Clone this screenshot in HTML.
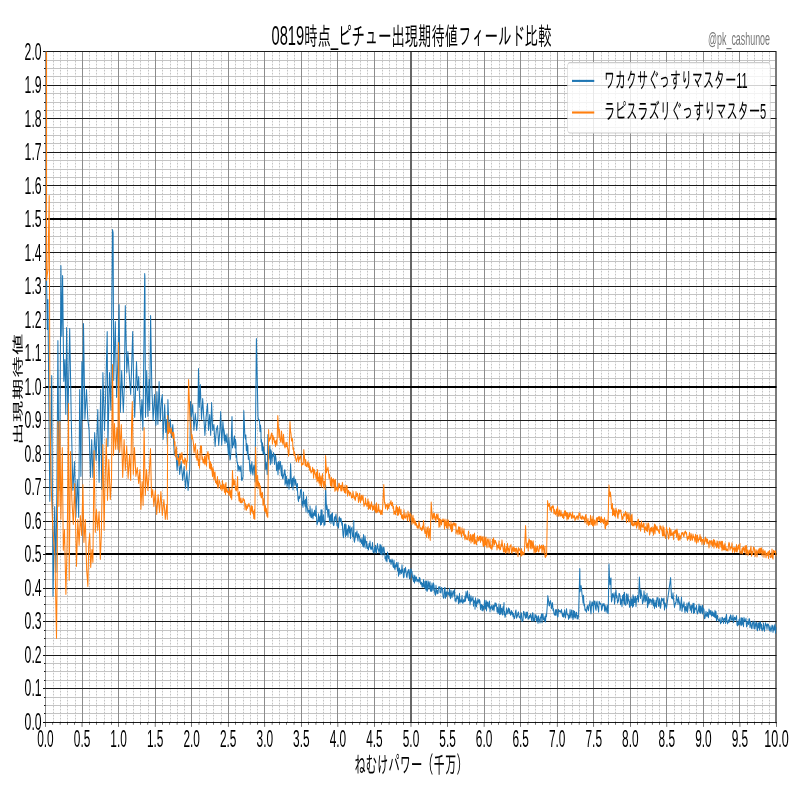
<!DOCTYPE html>
<html><head><meta charset="utf-8"><style>
html,body{margin:0;padding:0;background:#fff;width:800px;height:800px;overflow:hidden}
svg{display:block}
text{font-family:"Liberation Sans","IPAGothic","Noto Sans CJK JP",sans-serif;fill:#000}
.mnv{stroke:#c4c4c4;stroke-width:2;stroke-dasharray:1.6 1.4}
.mnh{stroke:#c8c8c8;stroke-width:1;shape-rendering:crispEdges}
.mjv{stroke:#8c8c8c;stroke-width:2}
.mjv5{stroke:#666;stroke-width:4}
.mjh{stroke:#111;stroke-width:1;shape-rendering:crispEdges}
.mjh5{stroke:#000;stroke-width:2;shape-rendering:crispEdges}
.tk{stroke:#000;stroke-width:1.1}
.tl{font-size:24.5px}
</style></head><body>
<svg width="800" height="800" viewBox="0 0 1600 800" preserveAspectRatio="none">
<rect x="0" y="0" width="1600" height="800" fill="#fff"/>
<g>
<line x1="107.00" y1="51.81" x2="107.00" y2="722.25" class="mnv"/>
<line x1="121.00" y1="51.81" x2="121.00" y2="722.25" class="mnv"/>
<line x1="135.00" y1="51.81" x2="135.00" y2="722.25" class="mnv"/>
<line x1="151.00" y1="51.81" x2="151.00" y2="722.25" class="mnv"/>
<line x1="179.00" y1="51.81" x2="179.00" y2="722.25" class="mnv"/>
<line x1="193.00" y1="51.81" x2="193.00" y2="722.25" class="mnv"/>
<line x1="209.00" y1="51.81" x2="209.00" y2="722.25" class="mnv"/>
<line x1="223.00" y1="51.81" x2="223.00" y2="722.25" class="mnv"/>
<line x1="253.00" y1="51.81" x2="253.00" y2="722.25" class="mnv"/>
<line x1="267.00" y1="51.81" x2="267.00" y2="722.25" class="mnv"/>
<line x1="281.00" y1="51.81" x2="281.00" y2="722.25" class="mnv"/>
<line x1="297.00" y1="51.81" x2="297.00" y2="722.25" class="mnv"/>
<line x1="325.00" y1="51.81" x2="325.00" y2="722.25" class="mnv"/>
<line x1="341.00" y1="51.81" x2="341.00" y2="722.25" class="mnv"/>
<line x1="355.00" y1="51.81" x2="355.00" y2="722.25" class="mnv"/>
<line x1="369.00" y1="51.81" x2="369.00" y2="722.25" class="mnv"/>
<line x1="399.00" y1="51.81" x2="399.00" y2="722.25" class="mnv"/>
<line x1="413.00" y1="51.81" x2="413.00" y2="722.25" class="mnv"/>
<line x1="427.00" y1="51.81" x2="427.00" y2="722.25" class="mnv"/>
<line x1="443.00" y1="51.81" x2="443.00" y2="722.25" class="mnv"/>
<line x1="471.00" y1="51.81" x2="471.00" y2="722.25" class="mnv"/>
<line x1="487.00" y1="51.81" x2="487.00" y2="722.25" class="mnv"/>
<line x1="501.00" y1="51.81" x2="501.00" y2="722.25" class="mnv"/>
<line x1="515.00" y1="51.81" x2="515.00" y2="722.25" class="mnv"/>
<line x1="545.00" y1="51.81" x2="545.00" y2="722.25" class="mnv"/>
<line x1="559.00" y1="51.81" x2="559.00" y2="722.25" class="mnv"/>
<line x1="575.00" y1="51.81" x2="575.00" y2="722.25" class="mnv"/>
<line x1="589.00" y1="51.81" x2="589.00" y2="722.25" class="mnv"/>
<line x1="617.00" y1="51.81" x2="617.00" y2="722.25" class="mnv"/>
<line x1="633.00" y1="51.81" x2="633.00" y2="722.25" class="mnv"/>
<line x1="647.00" y1="51.81" x2="647.00" y2="722.25" class="mnv"/>
<line x1="661.00" y1="51.81" x2="661.00" y2="722.25" class="mnv"/>
<line x1="691.00" y1="51.81" x2="691.00" y2="722.25" class="mnv"/>
<line x1="705.00" y1="51.81" x2="705.00" y2="722.25" class="mnv"/>
<line x1="721.00" y1="51.81" x2="721.00" y2="722.25" class="mnv"/>
<line x1="735.00" y1="51.81" x2="735.00" y2="722.25" class="mnv"/>
<line x1="765.00" y1="51.81" x2="765.00" y2="722.25" class="mnv"/>
<line x1="779.00" y1="51.81" x2="779.00" y2="722.25" class="mnv"/>
<line x1="793.00" y1="51.81" x2="793.00" y2="722.25" class="mnv"/>
<line x1="807.00" y1="51.81" x2="807.00" y2="722.25" class="mnv"/>
<line x1="837.00" y1="51.81" x2="837.00" y2="722.25" class="mnv"/>
<line x1="851.00" y1="51.81" x2="851.00" y2="722.25" class="mnv"/>
<line x1="867.00" y1="51.81" x2="867.00" y2="722.25" class="mnv"/>
<line x1="881.00" y1="51.81" x2="881.00" y2="722.25" class="mnv"/>
<line x1="911.00" y1="51.81" x2="911.00" y2="722.25" class="mnv"/>
<line x1="925.00" y1="51.81" x2="925.00" y2="722.25" class="mnv"/>
<line x1="939.00" y1="51.81" x2="939.00" y2="722.25" class="mnv"/>
<line x1="955.00" y1="51.81" x2="955.00" y2="722.25" class="mnv"/>
<line x1="983.00" y1="51.81" x2="983.00" y2="722.25" class="mnv"/>
<line x1="999.00" y1="51.81" x2="999.00" y2="722.25" class="mnv"/>
<line x1="1013.00" y1="51.81" x2="1013.00" y2="722.25" class="mnv"/>
<line x1="1027.00" y1="51.81" x2="1027.00" y2="722.25" class="mnv"/>
<line x1="1057.00" y1="51.81" x2="1057.00" y2="722.25" class="mnv"/>
<line x1="1071.00" y1="51.81" x2="1071.00" y2="722.25" class="mnv"/>
<line x1="1085.00" y1="51.81" x2="1085.00" y2="722.25" class="mnv"/>
<line x1="1101.00" y1="51.81" x2="1101.00" y2="722.25" class="mnv"/>
<line x1="1129.00" y1="51.81" x2="1129.00" y2="722.25" class="mnv"/>
<line x1="1145.00" y1="51.81" x2="1145.00" y2="722.25" class="mnv"/>
<line x1="1159.00" y1="51.81" x2="1159.00" y2="722.25" class="mnv"/>
<line x1="1173.00" y1="51.81" x2="1173.00" y2="722.25" class="mnv"/>
<line x1="1203.00" y1="51.81" x2="1203.00" y2="722.25" class="mnv"/>
<line x1="1217.00" y1="51.81" x2="1217.00" y2="722.25" class="mnv"/>
<line x1="1231.00" y1="51.81" x2="1231.00" y2="722.25" class="mnv"/>
<line x1="1247.00" y1="51.81" x2="1247.00" y2="722.25" class="mnv"/>
<line x1="1275.00" y1="51.81" x2="1275.00" y2="722.25" class="mnv"/>
<line x1="1291.00" y1="51.81" x2="1291.00" y2="722.25" class="mnv"/>
<line x1="1305.00" y1="51.81" x2="1305.00" y2="722.25" class="mnv"/>
<line x1="1319.00" y1="51.81" x2="1319.00" y2="722.25" class="mnv"/>
<line x1="1349.00" y1="51.81" x2="1349.00" y2="722.25" class="mnv"/>
<line x1="1363.00" y1="51.81" x2="1363.00" y2="722.25" class="mnv"/>
<line x1="1379.00" y1="51.81" x2="1379.00" y2="722.25" class="mnv"/>
<line x1="1393.00" y1="51.81" x2="1393.00" y2="722.25" class="mnv"/>
<line x1="1423.00" y1="51.81" x2="1423.00" y2="722.25" class="mnv"/>
<line x1="1437.00" y1="51.81" x2="1437.00" y2="722.25" class="mnv"/>
<line x1="1451.00" y1="51.81" x2="1451.00" y2="722.25" class="mnv"/>
<line x1="1465.00" y1="51.81" x2="1465.00" y2="722.25" class="mnv"/>
<line x1="1495.00" y1="51.81" x2="1495.00" y2="722.25" class="mnv"/>
<line x1="1509.00" y1="51.81" x2="1509.00" y2="722.25" class="mnv"/>
<line x1="1525.00" y1="51.81" x2="1525.00" y2="722.25" class="mnv"/>
<line x1="1539.00" y1="51.81" x2="1539.00" y2="722.25" class="mnv"/>
<rect x="90.96" y="713" width="1462.04" height="1" fill="#c4c4c4"/>
<rect x="90.96" y="705" width="1462.04" height="1" fill="#c4c4c4"/>
<rect x="90.96" y="697" width="1462.04" height="1" fill="#c4c4c4"/>
<rect x="90.96" y="680" width="1462.04" height="1" fill="#c4c4c4"/>
<rect x="90.96" y="671" width="1462.04" height="1" fill="#c4c4c4"/>
<rect x="90.96" y="663" width="1462.04" height="1" fill="#c4c4c4"/>
<rect x="90.96" y="646" width="1462.04" height="1" fill="#c4c4c4"/>
<rect x="90.96" y="638" width="1462.04" height="1" fill="#c4c4c4"/>
<rect x="90.96" y="630" width="1462.04" height="1" fill="#c4c4c4"/>
<rect x="90.96" y="613" width="1462.04" height="1" fill="#c4c4c4"/>
<rect x="90.96" y="604" width="1462.04" height="1" fill="#c4c4c4"/>
<rect x="90.96" y="596" width="1462.04" height="1" fill="#c4c4c4"/>
<rect x="90.96" y="579" width="1462.04" height="1" fill="#c4c4c4"/>
<rect x="90.96" y="571" width="1462.04" height="1" fill="#c4c4c4"/>
<rect x="90.96" y="563" width="1462.04" height="1" fill="#c4c4c4"/>
<rect x="90.96" y="546" width="1462.04" height="1" fill="#c4c4c4"/>
<rect x="90.96" y="537" width="1462.04" height="1" fill="#c4c4c4"/>
<rect x="90.96" y="529" width="1462.04" height="1" fill="#c4c4c4"/>
<rect x="90.96" y="512" width="1462.04" height="1" fill="#c4c4c4"/>
<rect x="90.96" y="504" width="1462.04" height="1" fill="#c4c4c4"/>
<rect x="90.96" y="495" width="1462.04" height="1" fill="#c4c4c4"/>
<rect x="90.96" y="479" width="1462.04" height="1" fill="#c4c4c4"/>
<rect x="90.96" y="470" width="1462.04" height="1" fill="#c4c4c4"/>
<rect x="90.96" y="462" width="1462.04" height="1" fill="#c4c4c4"/>
<rect x="90.96" y="445" width="1462.04" height="1" fill="#c4c4c4"/>
<rect x="90.96" y="437" width="1462.04" height="1" fill="#c4c4c4"/>
<rect x="90.96" y="428" width="1462.04" height="1" fill="#c4c4c4"/>
<rect x="90.96" y="412" width="1462.04" height="1" fill="#c4c4c4"/>
<rect x="90.96" y="403" width="1462.04" height="1" fill="#c4c4c4"/>
<rect x="90.96" y="395" width="1462.04" height="1" fill="#c4c4c4"/>
<rect x="90.96" y="378" width="1462.04" height="1" fill="#c4c4c4"/>
<rect x="90.96" y="370" width="1462.04" height="1" fill="#c4c4c4"/>
<rect x="90.96" y="361" width="1462.04" height="1" fill="#c4c4c4"/>
<rect x="90.96" y="345" width="1462.04" height="1" fill="#c4c4c4"/>
<rect x="90.96" y="336" width="1462.04" height="1" fill="#c4c4c4"/>
<rect x="90.96" y="328" width="1462.04" height="1" fill="#c4c4c4"/>
<rect x="90.96" y="311" width="1462.04" height="1" fill="#c4c4c4"/>
<rect x="90.96" y="303" width="1462.04" height="1" fill="#c4c4c4"/>
<rect x="90.96" y="294" width="1462.04" height="1" fill="#c4c4c4"/>
<rect x="90.96" y="278" width="1462.04" height="1" fill="#c4c4c4"/>
<rect x="90.96" y="269" width="1462.04" height="1" fill="#c4c4c4"/>
<rect x="90.96" y="261" width="1462.04" height="1" fill="#c4c4c4"/>
<rect x="90.96" y="244" width="1462.04" height="1" fill="#c4c4c4"/>
<rect x="90.96" y="236" width="1462.04" height="1" fill="#c4c4c4"/>
<rect x="90.96" y="227" width="1462.04" height="1" fill="#c4c4c4"/>
<rect x="90.96" y="211" width="1462.04" height="1" fill="#c4c4c4"/>
<rect x="90.96" y="202" width="1462.04" height="1" fill="#c4c4c4"/>
<rect x="90.96" y="194" width="1462.04" height="1" fill="#c4c4c4"/>
<rect x="90.96" y="177" width="1462.04" height="1" fill="#c4c4c4"/>
<rect x="90.96" y="169" width="1462.04" height="1" fill="#c4c4c4"/>
<rect x="90.96" y="160" width="1462.04" height="1" fill="#c4c4c4"/>
<rect x="90.96" y="143" width="1462.04" height="1" fill="#c4c4c4"/>
<rect x="90.96" y="135" width="1462.04" height="1" fill="#c4c4c4"/>
<rect x="90.96" y="127" width="1462.04" height="1" fill="#c4c4c4"/>
<rect x="90.96" y="110" width="1462.04" height="1" fill="#c4c4c4"/>
<rect x="90.96" y="102" width="1462.04" height="1" fill="#c4c4c4"/>
<rect x="90.96" y="93" width="1462.04" height="1" fill="#c4c4c4"/>
<rect x="90.96" y="76" width="1462.04" height="1" fill="#c4c4c4"/>
<rect x="90.96" y="68" width="1462.04" height="1" fill="#c4c4c4"/>
<rect x="90.96" y="60" width="1462.04" height="1" fill="#c4c4c4"/>
<rect x="90" y="51.81" width="2" height="670.44" fill="#8c8c8c"/>
<rect x="164" y="51.81" width="2" height="670.44" fill="#8c8c8c"/>
<rect x="236" y="51.81" width="2" height="670.44" fill="#8c8c8c"/>
<rect x="310" y="51.81" width="2" height="670.44" fill="#8c8c8c"/>
<rect x="382" y="51.81" width="2" height="670.44" fill="#8c8c8c"/>
<rect x="456" y="51.81" width="2" height="670.44" fill="#8c8c8c"/>
<rect x="528" y="51.81" width="2" height="670.44" fill="#8c8c8c"/>
<rect x="602" y="51.81" width="2" height="670.44" fill="#8c8c8c"/>
<rect x="674" y="51.81" width="2" height="670.44" fill="#8c8c8c"/>
<rect x="748" y="51.81" width="2" height="670.44" fill="#8c8c8c"/>
<rect x="820" y="51.81" width="4" height="670.44" fill="#666"/>
<rect x="894" y="51.81" width="2" height="670.44" fill="#8c8c8c"/>
<rect x="968" y="51.81" width="2" height="670.44" fill="#8c8c8c"/>
<rect x="1040" y="51.81" width="2" height="670.44" fill="#8c8c8c"/>
<rect x="1114" y="51.81" width="2" height="670.44" fill="#8c8c8c"/>
<rect x="1186" y="51.81" width="2" height="670.44" fill="#8c8c8c"/>
<rect x="1260" y="51.81" width="2" height="670.44" fill="#8c8c8c"/>
<rect x="1332" y="51.81" width="2" height="670.44" fill="#8c8c8c"/>
<rect x="1406" y="51.81" width="2" height="670.44" fill="#8c8c8c"/>
<rect x="1478" y="51.81" width="2" height="670.44" fill="#8c8c8c"/>
<rect x="1550" y="51.81" width="4" height="671.44" fill="#7a7a7a"/>
<rect x="90.96" y="722" width="1462.04" height="1" fill="#1a1a1a"/>
<rect x="90.96" y="688" width="1462.04" height="1" fill="#1a1a1a"/>
<rect x="90.96" y="655" width="1462.04" height="1" fill="#1a1a1a"/>
<rect x="90.96" y="621" width="1462.04" height="1" fill="#1a1a1a"/>
<rect x="90.96" y="588" width="1462.04" height="1" fill="#1a1a1a"/>
<rect x="90.96" y="553" width="1462.04" height="2" fill="#000"/>
<rect x="90.96" y="521" width="1462.04" height="1" fill="#1a1a1a"/>
<rect x="90.96" y="487" width="1462.04" height="1" fill="#1a1a1a"/>
<rect x="90.96" y="454" width="1462.04" height="1" fill="#1a1a1a"/>
<rect x="90.96" y="420" width="1462.04" height="1" fill="#1a1a1a"/>
<rect x="90.96" y="386" width="1462.04" height="2" fill="#000"/>
<rect x="90.96" y="353" width="1462.04" height="1" fill="#1a1a1a"/>
<rect x="90.96" y="319" width="1462.04" height="1" fill="#1a1a1a"/>
<rect x="90.96" y="286" width="1462.04" height="1" fill="#1a1a1a"/>
<rect x="90.96" y="252" width="1462.04" height="1" fill="#1a1a1a"/>
<rect x="90.96" y="218" width="1462.04" height="2" fill="#000"/>
<rect x="90.96" y="185" width="1462.04" height="1" fill="#1a1a1a"/>
<rect x="90.96" y="152" width="1462.04" height="1" fill="#1a1a1a"/>
<rect x="90.96" y="118" width="1462.04" height="1" fill="#1a1a1a"/>
<rect x="90.96" y="85" width="1462.04" height="1" fill="#1a1a1a"/>
<rect x="90.96" y="51" width="1462.04" height="1" fill="#1a1a1a"/>
</g>
<defs><clipPath id="ax"><rect x="91" y="51.8" width="1462" height="671"/></clipPath></defs>
<g clip-path="url(#ax)" fill="none" stroke-linejoin="round" stroke-linecap="square">
<path d="M93.0,20.0 L93.0,275.0 L94.6,329.0 L95.8,300.0 L99.6,501.0 L103.4,376.0 L106.0,596.0 L109.4,507.0 L111.8,572.0 L113.8,490.0 L115.8,341.0 L118.0,490.0 L119.8,437.0 L121.8,266.0 L123.6,336.0 L125.2,276.0 L127.6,381.0 L129.8,360.0 L131.6,414.0 L133.2,328.0 L135.8,420.0 L139.4,329.0 L142.6,421.0 L145.8,490.0 L149.0,462.0 L151.8,517.0 L154.6,480.0 L157.4,517.0 L159.4,390.0 L161.8,476.0 L163.8,362.0 L165.4,419.0 L167.0,324.0 L169.8,419.0 L173.0,390.0 L175.6,419.0 L178.2,430.0 L181.0,477.0 L183.4,440.0 L185.8,477.0 L189.4,433.0 L192.2,460.0 L195.6,410.0 L198.2,482.0 L201.4,390.0 L203.4,489.0 L205.8,373.0 L209.0,430.0 L211.0,400.0 L214.4,332.0 L215.8,446.0 L219.0,373.0 L221.8,410.0 L225.0,230.0 L226.2,233.0 L227.4,380.0 L230.6,322.0 L233.2,397.0 L235.8,360.0 L238.2,305.0 L240.6,412.0 L243.4,371.0 L246.6,412.0 L248.6,387.0 L250.6,306.0 L253.6,372.0 L255.8,352.0 L258.6,375.0 L261.4,394.0 L263.0,371.0 L265.4,332.0 L267.4,387.0 L269.4,417.0 L273.0,362.0 L275.0,390.0 L277.4,377.0 L279.4,400.0 L281.8,420.0 L283.8,400.0 L285.8,430.0 L288.2,330.0 L289.4,274.0 L289.8,277.0 L291.0,417.0 L293.4,371.0 L295.8,416.0 L298.2,380.0 L299.4,410.0 L301.2,316.0 L303.6,386.0 L306.2,420.0 L309.0,395.0 L311.8,425.0 L313.8,392.0 L315.8,424.0 L318.2,382.0 L320.6,421.0 L323.0,400.0 L324.6,395.0 L326.2,439.0 L329.4,405.0 L331.4,432.0 L333.0,420.0 L334.6,444.0 L335.8,400.0 L338.2,432.0 L340.6,420.0 L343.0,437.0 L345.6,425.0 L348.6,455.0 L351.6,450.0 L354.2,470.0 L356.6,455.0 L359.4,474.0 L362.2,462.0 L365.4,480.0 L368.2,467.0 L371.0,488.0 L373.8,472.0 L376.2,490.0 L379.4,470.0 L381.0,402.0 L383.0,416.0 L385.4,405.0 L387.8,430.0 L390.6,414.0 L393.4,430.0 L395.8,418.0 L397.0,369.0 L398.6,407.0 L400.6,385.0 L403.0,419.0 L405.4,399.0 L407.8,419.0 L409.8,435.0 L412.2,417.0 L415.0,404.0 L417.0,430.0 L419.4,415.0 L421.4,435.0 L423.2,403.0 L425.4,430.0 L427.8,425.0 L430.2,446.0 L432.6,430.0 L435.0,426.0 L437.4,445.0 L439.8,430.0 L441.4,412.0 L443.4,445.0 L445.8,422.0 L448.6,440.0 L448.0,430.1 L449.0,433.9 L450.0,442.9 L450.9,435.6 L451.9,438.3 L452.9,441.8 L453.9,434.4 L454.9,443.7 L455.9,448.4 L456.8,454.4 L457.8,438.1 L458.8,445.2 L458.8,451.1 L459.9,459.7 L460.9,458.3 L461.9,450.5 L464.0,417.0 L465.0,447.4 L466.0,443.7 L467.0,444.6 L468.0,437.7 L469.0,436.4 L470.0,447.5 L471.0,439.9 L472.0,443.8 L472.0,456.4 L473.0,453.5 L474.0,462.1 L475.0,462.6 L476.0,470.6 L477.0,465.8 L478.0,468.8 L479.0,467.2 L480.0,471.0 L481.0,468.3 L482.0,466.1 L483.0,479.4 L484.0,480.2 L485.0,478.4 L486.0,477.0 L487.6,411.0 L489.8,436.4 L490.8,438.6 L491.7,435.4 L492.7,450.2 L493.7,444.1 L494.7,454.2 L495.6,445.9 L496.6,458.9 L497.6,457.8 L497.6,456.0 L498.6,459.8 L499.7,470.7 L500.7,465.3 L501.7,473.7 L502.8,466.1 L503.8,462.1 L504.8,471.4 L505.9,474.6 L506.9,467.7 L507.9,465.7 L509.0,470.4 L510.0,481.4 L512.8,339.0 L516.0,416.9 L517.0,419.9 L518.0,419.9 L519.0,421.0 L520.0,431.2 L521.0,425.5 L522.0,431.7 L522.0,441.7 L523.0,440.0 L524.1,450.3 L525.1,443.2 L526.1,453.2 L527.2,447.2 L528.2,454.0 L529.2,452.9 L530.3,455.9 L531.3,469.0 L532.3,468.6 L533.4,462.8 L534.4,474.2 L535.8,435.0 L536.6,448.9 L537.7,458.9 L538.7,455.6 L539.7,446.2 L540.7,464.1 L541.8,450.4 L542.8,452.3 L543.8,462.7 L544.9,455.6 L545.9,456.0 L546.9,453.1 L547.9,454.4 L549.0,464.0 L550.0,459.1 L550.0,457.8 L551.0,455.5 L552.0,458.7 L553.0,470.2 L554.0,462.9 L555.0,466.5 L556.0,474.3 L557.0,462.1 L558.0,463.2 L558.0,468.7 L559.0,468.7 L560.0,461.9 L561.0,462.2 L562.0,471.3 L563.0,475.4 L564.0,465.9 L565.0,478.0 L566.0,478.3 L567.0,475.4 L568.0,473.9 L569.0,470.4 L570.0,470.6 L570.0,484.4 L571.0,474.6 L572.0,482.6 L573.0,476.9 L574.0,486.4 L575.0,483.9 L576.0,480.4 L577.0,479.6 L578.0,488.8 L579.0,480.0 L580.0,483.4 L581.2,464.0 L583.0,486.3 L584.0,483.3 L585.0,478.7 L586.0,489.5 L587.0,479.0 L588.0,476.9 L589.0,481.5 L590.0,485.0 L591.0,479.8 L592.0,482.4 L593.0,486.1 L594.0,489.9 L595.0,484.0 L595.0,490.4 L596.0,499.0 L597.0,501.1 L598.0,496.8 L599.0,498.0 L600.0,497.0 L601.0,490.8 L602.0,489.7 L603.0,490.1 L604.0,504.7 L605.0,502.1 L606.0,506.9 L607.0,492.5 L608.0,503.0 L609.0,501.2 L610.0,505.8 L611.0,499.8 L612.0,511.5 L613.0,497.0 L614.0,505.4 L615.0,509.2 L616.0,512.6 L617.0,510.6 L618.0,510.7 L619.0,512.8 L620.0,515.6 L620.0,506.3 L621.0,512.8 L622.0,517.1 L623.0,517.1 L624.0,509.2 L625.0,516.5 L626.0,518.3 L627.0,513.4 L628.0,514.8 L629.0,510.7 L630.0,514.9 L631.0,515.8 L632.0,506.3 L633.0,517.3 L634.0,524.4 L635.0,522.7 L636.0,520.3 L637.0,514.2 L638.0,521.3 L639.0,518.8 L640.0,516.5 L641.0,524.7 L642.0,510.4 L643.0,523.9 L644.0,510.2 L645.0,521.8 L646.0,519.9 L647.0,515.4 L648.0,525.1 L649.0,521.5 L650.0,524.3 L651.2,485.0 L653.0,509.2 L654.0,505.9 L655.0,510.7 L656.0,516.9 L657.0,510.0 L658.0,509.9 L659.0,521.8 L660.0,518.4 L661.0,515.4 L662.0,522.9 L663.0,514.4 L664.0,520.2 L665.0,513.2 L665.0,516.9 L666.0,523.1 L667.0,525.1 L668.0,524.7 L669.0,517.3 L670.0,520.6 L671.0,516.9 L672.0,514.5 L673.0,520.1 L674.0,525.4 L675.0,525.8 L676.0,524.1 L677.0,527.7 L678.0,518.4 L679.0,517.3 L680.0,521.4 L681.0,519.3 L682.0,518.8 L683.0,521.8 L684.0,524.9 L685.0,523.4 L685.0,527.4 L686.0,535.0 L687.0,537.2 L688.0,530.0 L689.0,524.9 L690.0,524.5 L691.0,536.5 L692.0,525.1 L693.0,534.7 L694.0,532.9 L695.0,529.5 L696.0,536.5 L697.0,525.9 L698.0,527.7 L699.0,532.4 L700.0,526.6 L701.0,538.1 L702.0,530.0 L703.0,528.9 L704.0,527.8 L705.0,536.2 L706.0,533.8 L707.0,536.6 L707.6,521.0 L708.0,539.7 L709.0,541.8 L710.0,538.7 L711.0,533.1 L712.0,536.7 L713.0,533.3 L714.0,531.4 L715.0,537.4 L716.0,540.7 L717.0,534.2 L718.0,535.6 L719.0,536.8 L720.0,541.6 L721.0,539.5 L722.0,541.0 L723.0,543.1 L724.0,538.6 L725.0,544.2 L726.0,546.0 L727.0,535.1 L728.0,546.9 L729.0,544.3 L730.0,536.4 L731.0,541.1 L732.0,543.8 L732.0,547.9 L733.0,541.8 L734.0,544.3 L735.0,548.3 L736.0,547.5 L737.0,549.5 L738.0,544.1 L739.0,546.5 L740.0,541.5 L741.0,547.9 L742.0,549.2 L743.0,547.4 L744.0,548.5 L745.0,542.9 L746.0,551.2 L747.0,552.3 L748.0,552.5 L749.0,547.7 L750.0,550.9 L751.0,545.7 L752.0,552.7 L753.0,552.3 L754.0,546.8 L755.0,544.0 L756.0,548.3 L757.0,549.8 L758.0,552.5 L759.0,549.6 L760.0,544.7 L761.0,553.7 L762.0,545.6 L763.0,554.1 L764.0,547.4 L765.0,549.4 L766.0,554.7 L767.0,547.8 L768.0,548.1 L769.0,552.4 L770.0,555.0 L770.0,558.2 L771.0,557.1 L772.0,560.4 L773.0,555.9 L774.0,561.4 L775.0,552.5 L776.0,554.5 L777.0,558.3 L778.0,556.3 L779.0,561.4 L780.0,561.0 L781.0,560.2 L782.0,564.1 L783.0,561.6 L784.0,559.5 L785.0,560.8 L786.0,566.1 L787.0,567.1 L788.0,560.5 L789.0,567.6 L790.0,569.3 L791.0,565.2 L792.0,566.2 L793.0,563.0 L794.0,566.9 L795.0,567.0 L795.0,570.5 L796.0,562.7 L797.0,575.8 L798.0,569.8 L799.0,568.5 L800.0,574.0 L801.0,571.0 L802.0,570.3 L803.0,573.1 L804.0,565.2 L805.0,571.5 L806.0,570.1 L807.0,577.1 L808.0,576.8 L809.0,569.0 L810.0,571.7 L811.0,567.8 L812.0,571.6 L813.0,576.3 L814.0,577.4 L815.0,572.7 L816.0,571.2 L817.0,570.0 L818.0,574.9 L819.0,578.4 L820.0,570.0 L821.0,577.1 L822.0,569.4 L823.0,571.5 L824.0,572.0 L825.0,576.9 L825.0,577.5 L826.0,578.1 L827.0,581.1 L828.0,575.6 L829.0,582.7 L830.0,576.2 L831.0,580.6 L832.0,577.9 L833.0,577.5 L834.0,581.3 L835.0,580.4 L836.0,579.9 L837.0,580.5 L838.0,581.9 L839.0,578.0 L840.0,578.6 L841.0,583.5 L842.0,583.7 L843.0,582.7 L844.0,586.4 L845.0,583.9 L846.0,586.8 L847.0,580.1 L848.0,585.8 L849.0,586.8 L850.0,587.9 L850.0,581.8 L851.0,582.1 L852.0,589.6 L853.0,581.5 L854.0,591.0 L855.0,589.9 L856.0,581.4 L857.0,582.9 L858.0,588.8 L859.0,583.7 L860.0,582.1 L861.0,590.8 L862.0,586.4 L863.0,590.9 L864.0,583.6 L865.0,587.0 L866.0,590.5 L867.0,583.3 L868.0,585.6 L869.0,591.2 L870.0,594.0 L871.0,594.9 L872.0,585.9 L873.0,590.4 L874.0,593.4 L875.0,590.9 L876.0,593.1 L877.0,588.1 L878.0,587.1 L879.0,587.8 L880.0,587.4 L880.0,592.1 L881.0,591.8 L882.0,592.5 L883.0,588.0 L884.0,588.6 L885.0,588.9 L886.0,596.0 L887.0,597.8 L888.0,597.3 L889.0,588.2 L890.0,588.0 L891.0,597.9 L892.0,592.7 L893.0,596.1 L894.0,591.5 L895.0,593.1 L896.0,593.8 L897.0,593.0 L898.0,595.0 L899.0,588.7 L900.0,596.4 L901.0,598.1 L902.0,590.9 L903.0,594.1 L904.0,597.3 L905.0,593.8 L906.0,591.6 L907.0,591.4 L908.0,595.4 L909.0,590.0 L910.0,599.8 L910.0,600.4 L911.0,599.2 L912.0,601.3 L913.0,598.4 L914.0,595.5 L915.0,598.1 L916.0,596.9 L917.0,603.3 L918.0,601.0 L919.0,593.9 L920.0,602.6 L921.0,600.4 L922.0,600.9 L923.0,601.5 L924.0,596.1 L925.0,602.7 L926.0,602.6 L927.0,600.2 L928.0,601.2 L929.0,601.3 L930.0,596.5 L931.0,600.8 L932.0,592.1 L933.0,595.8 L934.0,597.6 L935.0,591.4 L936.0,596.2 L937.0,600.1 L938.0,599.9 L939.0,594.6 L940.0,604.5 L941.0,600.7 L942.0,596.3 L943.0,600.8 L944.0,599.6 L945.0,599.1 L946.0,597.2 L947.0,605.8 L948.0,600.9 L949.0,601.7 L950.0,602.7 L950.0,608.8 L951.0,598.4 L952.0,605.0 L953.0,606.4 L954.0,601.2 L955.0,602.9 L956.0,599.2 L957.0,600.8 L958.0,602.9 L959.0,600.0 L960.0,601.8 L961.0,609.1 L962.0,605.3 L963.0,604.9 L964.0,610.0 L965.0,605.7 L966.0,610.5 L967.0,606.7 L968.0,608.7 L969.0,600.7 L970.0,606.6 L971.0,608.5 L972.0,600.7 L973.0,610.5 L974.0,602.2 L975.0,605.7 L976.0,602.5 L977.0,606.2 L978.0,607.5 L979.0,601.5 L980.0,611.4 L980.0,606.6 L981.0,607.9 L982.0,608.7 L983.0,606.3 L984.0,605.5 L985.0,609.6 L986.0,608.7 L987.0,605.8 L988.0,610.5 L989.0,606.1 L990.0,603.2 L991.0,605.8 L992.0,603.7 L993.0,605.0 L994.0,611.4 L995.0,607.7 L996.0,613.1 L997.0,611.6 L998.0,604.4 L999.0,614.2 L1000.0,613.9 L1001.0,605.0 L1002.0,613.6 L1003.0,608.8 L1004.0,609.4 L1005.0,614.5 L1006.0,607.2 L1007.0,610.1 L1008.0,603.0 L1008.0,614.2 L1009.0,611.8 L1010.0,616.9 L1011.0,615.4 L1012.0,613.4 L1013.0,608.6 L1014.0,613.7 L1015.0,612.2 L1016.0,609.8 L1017.0,608.4 L1018.0,613.1 L1019.0,609.3 L1020.0,612.5 L1021.0,614.7 L1022.0,612.7 L1023.0,611.0 L1024.0,614.1 L1025.0,612.7 L1026.0,616.1 L1027.0,613.9 L1028.0,618.3 L1029.0,618.0 L1030.0,616.0 L1031.0,611.5 L1032.0,610.4 L1033.0,617.7 L1034.0,616.8 L1035.0,615.4 L1036.0,613.1 L1037.0,612.4 L1038.0,616.2 L1038.0,616.6 L1039.0,617.0 L1040.0,617.4 L1041.0,618.7 L1042.0,613.1 L1043.0,613.8 L1044.0,621.1 L1045.0,620.5 L1046.0,620.2 L1047.0,611.9 L1048.0,612.2 L1049.0,614.3 L1050.0,615.9 L1051.0,617.9 L1052.0,612.8 L1053.0,617.2 L1054.0,612.6 L1055.0,612.8 L1056.0,618.7 L1057.0,617.5 L1058.0,618.4 L1059.0,615.9 L1060.0,617.0 L1061.0,614.4 L1062.0,615.7 L1063.0,619.8 L1064.0,620.8 L1065.0,613.2 L1066.0,613.7 L1067.0,620.7 L1068.0,618.9 L1069.0,620.4 L1070.0,614.9 L1071.0,617.0 L1072.0,615.4 L1073.0,621.0 L1074.0,616.7 L1075.0,619.6 L1076.0,623.0 L1077.0,616.4 L1078.0,618.7 L1079.0,620.7 L1080.0,622.5 L1081.0,617.6 L1082.0,617.1 L1083.0,614.4 L1084.0,622.3 L1085.0,614.3 L1086.0,614.4 L1087.0,619.3 L1088.0,618.6 L1089.0,620.6 L1090.0,616.8 L1091.0,621.6 L1092.0,614.7 L1093.0,616.1 L1095.0,602.6 L1095.6,596.0 L1097.0,600.3 L1098.0,605.1 L1099.0,605.5 L1100.0,601.9 L1101.0,601.0 L1102.0,603.8 L1103.0,608.3 L1104.0,605.2 L1105.0,603.1 L1106.0,610.0 L1107.0,609.2 L1108.0,613.5 L1109.0,614.4 L1110.0,614.8 L1111.0,610.2 L1112.0,614.8 L1112.0,610.0 L1113.0,610.3 L1114.0,611.2 L1115.0,616.6 L1116.0,616.3 L1117.0,609.9 L1118.0,611.2 L1119.0,611.3 L1120.0,611.3 L1121.0,611.8 L1122.0,611.8 L1123.0,609.9 L1124.1,613.7 L1125.1,616.1 L1126.1,613.7 L1127.1,616.7 L1128.1,614.1 L1129.1,610.3 L1130.1,616.2 L1131.1,617.5 L1132.1,611.6 L1133.1,609.1 L1134.1,614.1 L1135.1,614.5 L1136.1,614.8 L1137.1,618.9 L1138.1,615.8 L1139.1,617.4 L1140.1,610.1 L1141.1,615.0 L1142.1,617.5 L1143.1,610.6 L1144.1,610.7 L1145.1,617.3 L1146.2,619.0 L1147.2,611.0 L1148.2,616.5 L1149.2,611.7 L1150.2,617.8 L1151.2,617.0 L1152.2,613.0 L1153.2,612.8 L1154.2,618.4 L1155.2,616.0 L1156.2,618.6 L1157.2,614.9 L1159.6,569.0 L1160.2,591.3 L1161.2,587.4 L1162.1,586.1 L1163.1,589.1 L1164.1,594.8 L1165.1,596.7 L1166.1,602.5 L1167.1,595.8 L1168.0,605.1 L1169.0,604.5 L1170.0,609.7 L1170.0,609.3 L1171.0,609.8 L1172.0,610.7 L1173.0,611.8 L1174.0,607.5 L1175.0,606.0 L1176.0,608.7 L1177.0,610.2 L1178.0,605.0 L1179.0,605.1 L1180.0,601.4 L1181.0,609.8 L1182.0,613.5 L1183.0,605.0 L1184.0,602.2 L1185.0,602.9 L1185.0,605.1 L1186.0,603.6 L1187.0,611.8 L1188.0,601.0 L1189.1,604.0 L1190.1,601.8 L1191.1,608.2 L1192.1,609.8 L1193.1,602.9 L1194.1,601.6 L1195.1,606.3 L1196.1,607.9 L1197.2,611.7 L1198.2,601.7 L1199.2,602.6 L1200.2,603.6 L1201.2,604.0 L1202.2,604.3 L1203.2,609.9 L1204.2,608.6 L1205.3,604.5 L1206.3,604.1 L1207.3,605.3 L1208.3,604.2 L1209.3,610.8 L1210.3,605.9 L1211.3,608.6 L1212.3,611.7 L1213.4,608.0 L1214.4,605.7 L1215.4,612.7 L1216.4,613.1 L1218.0,564.5 L1218.8,575.4 L1219.9,584.3 L1221.0,579.6 L1222.0,578.3 L1222.0,588.7 L1223.0,601.5 L1224.0,599.8 L1225.0,594.1 L1226.0,596.4 L1227.0,596.5 L1228.0,593.3 L1229.0,603.8 L1230.0,599.3 L1231.0,593.4 L1232.0,590.4 L1233.0,597.4 L1234.0,596.1 L1235.0,602.6 L1236.0,601.7 L1237.0,600.3 L1238.0,593.9 L1239.0,594.1 L1240.0,596.8 L1240.0,595.6 L1241.0,604.2 L1242.0,599.4 L1243.0,601.2 L1244.0,606.2 L1245.0,596.1 L1246.0,600.0 L1247.0,594.7 L1248.0,603.4 L1249.0,592.7 L1250.0,604.3 L1251.0,604.7 L1252.0,604.5 L1253.0,594.2 L1254.0,596.9 L1255.0,603.2 L1256.0,594.6 L1257.0,600.1 L1258.0,600.0 L1259.0,606.9 L1260.0,601.8 L1261.0,605.7 L1262.0,598.0 L1263.0,604.9 L1264.0,599.7 L1265.0,606.8 L1266.0,595.3 L1267.0,605.7 L1268.0,597.1 L1269.0,601.9 L1270.0,601.7 L1271.0,596.7 L1272.0,606.2 L1273.0,599.0 L1274.0,599.0 L1275.0,595.8 L1276.0,599.1 L1277.0,601.5 L1278.8,577.5 L1280.0,593.0 L1281.0,598.0 L1282.0,590.3 L1283.0,594.7 L1284.0,596.0 L1285.0,603.3 L1286.0,601.8 L1287.0,599.7 L1288.0,591.4 L1289.0,596.7 L1290.0,601.6 L1291.0,595.6 L1292.0,600.4 L1293.0,599.3 L1294.0,593.7 L1295.0,607.1 L1296.0,605.0 L1297.0,597.5 L1298.0,603.3 L1299.0,599.4 L1300.0,600.9 L1300.0,602.5 L1301.0,599.6 L1302.0,600.2 L1303.0,600.9 L1304.0,604.3 L1305.0,599.4 L1306.0,598.8 L1307.0,605.4 L1308.0,600.5 L1309.0,608.1 L1310.0,603.5 L1311.0,605.6 L1312.0,600.8 L1313.0,607.0 L1314.0,598.0 L1315.0,598.7 L1316.0,598.1 L1317.0,605.5 L1318.0,606.0 L1319.0,599.4 L1320.0,602.3 L1321.0,607.8 L1322.0,604.8 L1323.0,598.5 L1324.0,600.3 L1325.0,599.5 L1326.0,599.2 L1327.0,602.9 L1328.0,598.6 L1329.0,609.6 L1330.0,603.3 L1331.0,604.5 L1332.0,606.3 L1333.0,608.0 L1341.2,578.0 L1343.0,597.6 L1344.0,597.1 L1345.0,598.5 L1346.0,593.3 L1347.0,598.8 L1348.0,603.0 L1349.0,606.9 L1350.0,604.6 L1351.0,603.1 L1352.0,602.6 L1353.0,595.3 L1354.0,599.5 L1355.0,599.9 L1356.0,604.0 L1357.0,597.5 L1358.0,601.1 L1359.0,602.9 L1360.0,606.5 L1360.0,609.9 L1361.0,607.4 L1362.0,602.1 L1363.0,597.5 L1364.0,611.0 L1365.0,606.9 L1366.0,604.7 L1367.0,606.5 L1368.0,602.4 L1369.0,609.1 L1370.0,612.3 L1371.0,606.9 L1372.0,609.3 L1373.0,610.7 L1374.0,603.5 L1375.0,612.0 L1376.0,608.5 L1377.0,603.7 L1378.0,602.5 L1379.0,604.4 L1380.0,608.2 L1381.0,609.6 L1382.0,605.6 L1383.0,612.2 L1384.0,606.1 L1385.0,607.3 L1386.0,603.7 L1387.0,612.9 L1388.0,603.9 L1389.0,612.3 L1390.0,608.5 L1391.0,608.7 L1392.0,608.8 L1393.0,605.7 L1394.0,612.6 L1395.0,613.5 L1396.0,611.7 L1397.0,609.5 L1398.0,604.6 L1399.0,611.9 L1400.0,606.5 L1401.0,612.8 L1402.0,606.2 L1403.0,609.6 L1404.0,612.3 L1405.0,605.9 L1405.0,613.5 L1406.0,608.9 L1407.0,608.5 L1408.0,610.1 L1409.0,618.3 L1410.0,617.9 L1411.0,615.2 L1412.0,611.8 L1413.0,615.5 L1414.0,616.3 L1415.0,612.8 L1416.0,615.0 L1417.0,617.2 L1418.0,609.5 L1419.0,611.4 L1420.0,614.2 L1421.0,611.0 L1422.0,613.6 L1423.0,615.5 L1424.0,611.6 L1425.0,615.2 L1426.0,612.7 L1427.0,615.9 L1428.0,613.6 L1429.0,616.8 L1430.0,610.9 L1431.0,617.3 L1432.0,612.1 L1433.0,620.4 L1434.0,616.9 L1435.0,615.7 L1435.0,617.1 L1436.0,619.3 L1437.0,620.0 L1438.0,620.8 L1439.0,620.8 L1440.0,618.2 L1441.0,623.3 L1442.0,621.8 L1443.0,622.1 L1444.0,617.7 L1445.0,618.0 L1446.0,619.4 L1447.0,622.9 L1448.0,619.1 L1449.0,619.2 L1450.0,618.3 L1451.0,623.1 L1452.0,617.3 L1453.0,614.7 L1454.0,621.5 L1455.0,623.3 L1456.0,621.7 L1457.0,620.4 L1458.0,622.1 L1459.0,617.6 L1460.0,620.6 L1461.0,615.4 L1462.0,616.0 L1463.0,619.3 L1464.0,620.0 L1465.0,619.0 L1466.0,615.6 L1467.0,622.1 L1468.0,620.5 L1469.0,617.7 L1470.0,618.4 L1471.0,619.4 L1472.0,617.8 L1473.0,616.2 L1474.0,624.7 L1475.0,625.3 L1476.0,622.4 L1477.0,624.5 L1478.0,620.1 L1479.0,624.0 L1480.0,618.2 L1480.0,623.7 L1481.0,622.2 L1482.0,625.3 L1483.0,618.2 L1484.0,624.5 L1485.0,618.6 L1486.0,622.4 L1487.0,626.3 L1488.0,617.8 L1489.0,620.1 L1490.0,620.7 L1491.0,621.0 L1492.0,618.8 L1493.0,626.4 L1494.0,625.7 L1495.0,622.1 L1496.0,621.8 L1497.0,624.0 L1498.0,619.2 L1499.0,619.2 L1500.0,627.1 L1501.0,621.9 L1502.0,623.7 L1503.0,627.7 L1504.0,628.2 L1505.0,623.8 L1506.0,621.5 L1507.0,622.4 L1508.0,628.1 L1509.0,628.0 L1510.0,621.8 L1510.0,628.5 L1511.0,624.3 L1512.0,625.4 L1513.0,622.8 L1514.0,629.2 L1515.0,630.3 L1516.0,623.2 L1517.0,627.2 L1518.0,623.3 L1519.0,629.6 L1520.0,622.2 L1521.0,622.7 L1522.0,628.4 L1523.0,624.7 L1524.0,630.1 L1525.0,629.9 L1526.0,628.6 L1527.0,623.4 L1528.0,628.5 L1529.0,630.8 L1530.0,626.4 L1531.0,623.2 L1532.0,624.6 L1533.0,625.4 L1534.0,629.1 L1535.0,624.6 L1536.0,624.5 L1537.0,625.0 L1538.0,629.0 L1539.0,630.2 L1540.0,626.5 L1541.0,629.2 L1542.0,631.2 L1543.0,628.7 L1544.0,625.5 L1545.0,626.2 L1546.0,631.9 L1547.0,629.6 L1548.0,626.2 L1549.0,629.5 L1550.0,624.7 L1551.0,632.8 L1552.0,628.0" stroke="#1f77b4" stroke-width="2.08"/>
<path d="M93.1,20.0 L93.1,280.0 L95.8,270.0 L98.4,196.0 L99.8,411.0 L102.6,490.0 L105.6,529.0 L109.8,555.0 L113.0,638.0 L114.6,560.0 L115.8,422.0 L117.8,506.0 L119.8,422.0 L121.8,519.0 L124.6,448.0 L126.6,550.0 L129.0,530.0 L131.8,594.0 L134.6,536.0 L137.0,404.0 L138.4,580.0 L141.0,452.0 L143.8,500.0 L146.6,524.0 L149.4,484.0 L153.0,566.0 L155.6,520.0 L158.2,545.0 L160.6,516.0 L163.4,535.0 L165.8,485.0 L167.8,542.0 L170.6,520.0 L173.4,570.0 L175.8,586.0 L177.4,545.0 L179.4,534.0 L181.4,567.0 L183.8,550.0 L185.8,562.0 L188.2,451.0 L190.6,532.0 L193.0,510.0 L195.4,530.0 L198.2,512.0 L200.6,559.0 L202.6,536.0 L205.8,445.0 L208.2,530.0 L209.4,497.0 L212.6,439.0 L215.0,500.0 L217.6,460.0 L220.6,499.0 L223.0,480.0 L225.0,365.0 L227.0,455.0 L229.0,424.0 L231.4,449.0 L233.8,428.0 L235.8,449.0 L237.0,343.0 L239.4,452.0 L242.6,425.0 L245.4,477.0 L248.2,440.0 L250.6,470.0 L253.4,446.0 L256.2,478.0 L259.0,455.0 L261.4,480.0 L263.4,420.0 L264.6,402.0 L266.6,474.0 L269.0,448.0 L271.8,476.0 L274.6,468.0 L277.4,483.0 L279.8,470.0 L281.8,509.0 L284.2,482.0 L286.2,505.0 L288.2,428.0 L290.6,495.0 L293.0,470.0 L295.8,490.0 L298.6,472.0 L301.0,449.0 L303.0,497.0 L305.4,490.0 L307.8,506.0 L310.6,491.0 L313.4,514.0 L316.2,495.0 L319.0,512.0 L321.8,492.0 L324.6,515.0 L327.8,500.0 L330.6,519.0 L333.4,505.0 L334.6,519.0 L335.4,416.0 L335.2,430.9 L336.2,432.5 L337.2,433.0 L338.2,422.8 L339.1,431.2 L340.1,430.1 L341.1,432.8 L342.1,428.3 L343.1,430.4 L344.1,435.3 L345.1,433.2 L346.1,437.9 L347.0,432.8 L348.0,434.9 L349.0,445.4 L350.0,442.3 L350.0,452.2 L351.0,456.5 L352.0,451.3 L353.0,447.3 L354.0,459.4 L355.0,457.1 L356.0,458.9 L357.0,459.1 L358.0,465.2 L359.0,456.7 L360.0,463.4 L360.0,453.8 L361.0,457.2 L361.9,459.0 L362.9,455.2 L363.9,452.9 L364.9,458.7 L365.9,462.7 L366.8,461.7 L367.8,460.5 L368.8,463.9 L369.8,458.4 L370.7,459.0 L371.7,461.7 L372.7,469.2 L373.7,461.3 L374.6,460.9 L377.2,380.0 L380.0,419.5 L381.0,425.5 L382.0,432.3 L383.0,438.6 L384.0,434.9 L385.0,438.3 L386.0,440.0 L387.0,443.9 L388.0,452.5 L389.0,449.8 L390.0,445.9 L391.0,444.2 L392.0,457.0 L393.0,456.7 L394.0,460.0 L395.0,450.2 L396.0,456.9 L397.0,465.0 L398.0,459.8 L399.0,467.8 L400.0,453.3 L400.0,459.6 L401.0,446.2 L402.0,452.0 L403.0,446.4 L404.0,458.9 L405.0,457.4 L406.0,462.3 L407.0,460.1 L408.0,462.8 L409.0,456.7 L410.0,464.3 L411.0,460.9 L412.0,454.8 L413.0,465.4 L414.0,456.1 L415.0,453.4 L416.0,451.9 L417.0,458.7 L418.0,454.6 L419.0,467.4 L420.0,468.2 L420.0,463.2 L421.0,462.2 L422.0,469.4 L423.0,464.6 L424.0,471.1 L425.0,476.1 L426.0,468.0 L427.0,471.4 L428.0,479.8 L429.0,473.2 L430.0,472.3 L431.0,482.0 L432.0,481.5 L433.0,483.6 L434.0,480.9 L435.0,477.0 L435.0,485.7 L436.0,487.9 L437.0,485.6 L438.0,480.4 L439.0,481.5 L440.0,483.4 L441.0,488.6 L442.0,486.0 L443.0,486.3 L444.0,490.3 L445.0,481.0 L446.0,488.3 L447.0,484.7 L448.0,488.0 L449.0,491.9 L450.0,484.6 L451.0,494.1 L452.0,483.0 L452.0,491.1 L453.0,491.3 L454.1,488.9 L455.1,492.3 L456.1,491.9 L457.2,492.1 L458.2,495.2 L459.2,488.4 L460.3,492.6 L461.3,497.2 L462.3,490.8 L463.4,499.1 L465.0,471.0 L466.0,485.9 L467.0,479.8 L467.9,484.1 L468.9,484.3 L469.8,480.3 L470.8,489.3 L471.7,486.9 L472.7,490.4 L473.6,488.9 L475.2,477.0 L476.0,495.3 L477.0,493.5 L478.0,500.4 L479.0,492.4 L480.0,501.5 L481.0,502.1 L482.0,498.6 L483.0,502.4 L484.0,501.9 L485.0,501.7 L486.0,498.5 L487.0,499.4 L488.0,500.4 L489.0,500.4 L490.0,509.5 L490.0,503.4 L491.0,504.3 L492.0,505.1 L492.9,509.7 L493.9,506.6 L494.9,507.8 L495.9,505.0 L496.9,505.6 L497.8,503.8 L498.8,505.7 L499.8,506.7 L500.8,514.2 L501.8,510.4 L502.7,505.9 L503.7,510.8 L504.7,506.8 L505.7,513.1 L506.7,511.9 L507.6,518.0 L508.6,510.2 L509.6,518.9 L511.2,447.5 L513.4,486.2 L514.3,482.7 L515.3,475.7 L516.2,488.3 L517.2,482.4 L518.2,485.2 L519.1,483.9 L520.1,494.8 L521.0,486.5 L522.0,496.6 L522.0,492.1 L523.0,497.4 L524.0,494.0 L525.0,492.9 L526.0,504.9 L527.0,503.2 L528.0,498.8 L529.0,510.2 L530.0,510.9 L530.0,506.8 L530.9,506.0 L531.9,512.8 L532.8,508.9 L533.7,515.7 L534.7,513.9 L535.6,517.1 L537.2,430.0 L537.8,439.7 L538.8,440.7 L539.8,438.4 L540.8,438.7 L541.9,435.8 L542.9,433.7 L543.9,433.5 L544.9,443.7 L545.9,435.7 L546.9,438.9 L547.9,437.9 L548.9,442.3 L549.9,441.5 L551.0,446.3 L552.0,441.0 L553.0,440.3 L554.0,444.7 L555.6,416.0 L558.0,437.0 L559.0,429.5 L560.0,438.5 L561.0,440.9 L562.0,442.0 L563.0,431.5 L564.0,436.0 L565.0,442.3 L566.0,444.1 L567.0,434.8 L568.0,440.6 L569.0,446.0 L570.0,447.5 L571.0,445.7 L572.0,442.7 L573.0,446.3 L574.0,443.0 L575.0,447.3 L576.0,449.8 L577.0,455.7 L578.0,454.0 L580.0,422.0 L581.0,431.0 L582.0,434.0 L583.0,440.5 L584.0,440.0 L585.0,439.0 L586.0,449.0 L587.0,448.2 L588.0,455.2 L589.0,452.2 L590.0,455.5 L590.0,455.4 L591.0,457.3 L592.0,460.2 L593.1,461.2 L594.1,459.0 L595.1,457.5 L596.1,454.8 L597.2,461.7 L598.2,458.3 L599.2,458.6 L600.2,456.2 L601.3,456.4 L602.3,459.9 L603.3,465.5 L604.4,463.8 L605.4,464.0 L606.4,464.0 L607.6,450.0 L609.4,460.1 L610.4,465.0 L611.4,460.0 L612.4,465.9 L613.3,465.6 L614.3,466.4 L615.3,462.4 L616.3,462.2 L617.3,467.1 L618.3,464.0 L619.3,469.9 L620.2,466.7 L621.2,470.7 L622.2,472.6 L623.2,471.5 L624.2,471.1 L625.2,467.7 L626.2,469.9 L627.2,477.8 L628.1,469.9 L629.1,470.6 L630.1,473.6 L631.1,474.7 L632.1,478.2 L633.1,472.6 L634.1,481.4 L635.1,470.1 L636.0,480.2 L637.0,477.9 L638.0,482.7 L639.0,473.5 L640.0,481.0 L640.0,485.4 L641.0,482.5 L642.0,476.3 L643.0,486.6 L645.0,474.0 L646.0,480.9 L647.1,487.3 L648.2,481.7 L649.3,482.2 L650.4,489.2 L651.2,456.0 L653.0,472.5 L654.0,469.9 L655.0,469.4 L656.0,467.6 L657.0,472.0 L658.0,477.9 L659.0,474.8 L660.0,478.5 L660.0,478.4 L661.0,485.2 L662.0,485.4 L662.9,477.9 L663.9,487.2 L664.9,479.8 L665.9,480.6 L666.8,479.1 L667.8,486.6 L668.8,480.7 L669.8,491.0 L670.8,479.7 L671.7,489.7 L672.7,489.4 L673.7,487.5 L674.7,487.9 L675.6,490.9 L676.6,489.3 L677.6,483.7 L677.6,488.0 L678.6,483.9 L679.6,486.5 L680.7,486.1 L681.7,490.4 L682.7,485.7 L683.7,490.6 L684.8,482.9 L685.8,485.8 L686.8,489.7 L687.8,489.4 L688.9,492.1 L689.9,485.8 L690.9,492.5 L691.9,492.7 L693.0,486.0 L694.0,486.2 L695.0,491.4 L695.0,495.8 L696.0,492.4 L697.0,490.8 L698.0,491.9 L699.0,495.2 L700.0,492.6 L701.0,493.0 L702.0,493.9 L703.0,497.6 L704.0,496.5 L705.0,497.2 L706.0,491.7 L707.0,495.4 L708.0,497.9 L709.0,497.1 L710.0,499.7 L711.0,499.6 L712.0,492.0 L713.0,496.1 L714.0,494.9 L715.0,493.7 L716.0,496.9 L717.0,502.0 L718.0,500.1 L719.0,493.7 L720.0,495.5 L720.0,496.7 L721.0,502.2 L722.0,498.4 L723.0,495.7 L724.0,500.0 L725.0,497.3 L726.0,495.6 L727.0,501.6 L728.0,506.1 L729.0,504.3 L730.0,504.3 L731.0,498.6 L732.0,503.2 L733.0,504.4 L734.0,506.1 L735.0,503.1 L736.0,499.3 L737.0,509.0 L738.0,502.3 L739.0,507.8 L740.0,505.2 L741.0,509.0 L742.0,504.6 L743.0,502.3 L744.0,506.3 L745.0,507.3 L745.0,509.9 L746.0,506.2 L747.0,509.0 L748.1,506.2 L749.1,509.9 L750.1,504.5 L751.1,511.7 L752.1,512.4 L753.2,503.4 L754.2,511.9 L755.2,511.2 L756.2,510.5 L757.2,504.8 L758.2,511.2 L759.3,511.7 L760.3,510.4 L761.3,513.9 L762.3,513.9 L763.3,510.9 L764.4,514.0 L765.4,506.3 L767.6,485.0 L769.0,502.8 L770.0,503.1 L771.0,508.2 L772.0,505.0 L773.0,505.2 L774.0,505.6 L775.0,509.6 L776.0,503.7 L777.0,507.9 L778.0,506.7 L779.0,504.7 L780.0,504.3 L781.0,502.5 L782.0,501.1 L783.0,505.3 L784.0,505.2 L785.0,502.9 L786.0,508.0 L787.0,506.8 L788.0,514.0 L789.0,512.6 L790.0,511.6 L791.0,514.2 L792.0,507.5 L793.0,505.8 L794.0,512.3 L795.0,507.8 L795.0,514.9 L796.0,509.6 L797.0,514.6 L798.0,508.4 L799.0,507.1 L800.0,512.9 L801.0,513.9 L802.0,509.7 L803.0,517.1 L804.0,518.0 L805.0,515.2 L806.0,518.8 L807.0,519.1 L808.0,510.3 L809.0,517.0 L810.0,517.6 L811.0,517.7 L812.0,513.6 L813.0,516.3 L814.0,517.1 L815.0,520.5 L816.0,511.5 L817.0,515.6 L818.0,515.2 L819.0,521.2 L820.0,513.4 L820.0,513.7 L821.0,514.6 L822.0,514.9 L823.0,518.7 L824.0,523.9 L825.0,518.4 L826.0,515.8 L827.0,522.6 L828.0,519.1 L829.0,522.1 L830.0,524.5 L831.0,521.4 L832.0,525.0 L833.0,524.0 L834.0,527.1 L835.0,526.3 L836.0,528.3 L837.0,526.8 L838.0,521.5 L839.0,524.5 L840.0,528.1 L841.0,528.6 L842.0,528.2 L843.0,530.0 L844.0,530.1 L845.0,526.8 L846.0,528.4 L847.0,521.1 L848.0,527.0 L849.0,530.5 L850.0,533.2 L851.0,532.7 L852.0,527.7 L852.0,528.0 L853.0,536.8 L854.1,534.1 L855.1,528.5 L856.2,527.0 L857.2,537.7 L858.3,534.3 L859.4,529.0 L860.4,539.9 L862.4,502.5 L864.6,518.1 L865.7,519.1 L866.7,513.8 L867.7,517.0 L868.7,513.7 L869.8,518.9 L870.8,517.4 L871.8,521.9 L872.9,514.6 L873.9,516.0 L874.9,518.6 L875.9,514.3 L877.0,519.7 L878.0,527.0 L878.0,525.7 L879.0,519.0 L880.0,525.8 L881.0,519.8 L882.0,520.2 L883.0,524.4 L884.0,521.1 L885.0,520.3 L886.0,519.3 L887.0,520.4 L888.0,520.8 L889.0,528.6 L890.0,519.6 L891.0,525.1 L892.0,521.8 L893.0,527.5 L894.0,519.9 L895.0,524.1 L896.0,528.3 L897.0,520.6 L898.0,525.1 L899.0,524.4 L900.0,526.4 L901.0,528.2 L902.0,522.1 L903.0,531.3 L904.0,524.7 L905.0,530.7 L906.0,523.5 L907.0,523.2 L908.0,524.6 L909.0,523.5 L910.0,525.6 L911.0,524.5 L912.0,524.0 L912.0,533.7 L913.0,531.0 L914.0,530.9 L915.0,531.2 L916.0,534.3 L917.0,527.4 L918.0,527.5 L919.0,533.7 L920.0,527.5 L921.0,532.6 L922.0,534.0 L923.0,536.4 L924.0,528.2 L925.0,532.4 L926.0,531.7 L927.0,534.7 L928.0,529.3 L929.0,536.9 L930.0,539.3 L931.0,535.3 L932.0,536.7 L933.0,538.8 L934.0,539.1 L935.0,539.1 L936.0,535.7 L937.0,531.6 L938.0,539.6 L939.0,540.4 L940.0,539.0 L941.0,534.9 L942.0,542.6 L943.0,538.8 L944.0,535.5 L945.0,541.2 L946.0,534.9 L947.0,535.3 L948.0,543.4 L949.0,533.5 L950.0,543.4 L950.0,539.0 L951.0,540.8 L952.0,542.1 L953.0,544.4 L954.0,537.6 L955.0,536.4 L956.0,540.7 L957.0,537.9 L958.0,540.0 L959.0,536.9 L960.0,536.8 L961.0,541.9 L962.0,536.5 L963.0,538.9 L964.0,540.3 L965.0,537.3 L966.0,544.9 L967.0,546.1 L968.0,536.8 L969.0,545.3 L970.0,538.6 L971.0,544.7 L972.0,537.5 L973.0,545.1 L974.0,547.3 L975.0,539.9 L976.0,539.0 L977.0,541.0 L978.0,546.9 L979.0,546.2 L980.0,539.3 L981.0,547.8 L982.0,546.0 L983.0,548.6 L984.0,548.9 L985.0,539.7 L986.0,546.4 L987.0,538.4 L988.0,540.4 L989.0,544.5 L990.0,541.1 L991.0,541.0 L992.0,542.7 L993.0,544.0 L994.0,549.5 L995.0,545.7 L996.0,545.5 L997.0,547.5 L998.0,541.3 L999.0,548.8 L1000.0,548.4 L1001.0,549.1 L1002.0,544.8 L1003.0,546.0 L1004.0,540.4 L1005.0,545.2 L1006.0,547.6 L1007.0,551.5 L1008.0,551.0 L1009.0,544.1 L1010.0,549.5 L1010.0,551.6 L1011.0,552.8 L1012.0,550.1 L1013.0,546.7 L1014.0,552.3 L1015.0,543.8 L1016.0,549.5 L1017.0,548.5 L1018.0,553.0 L1019.0,550.5 L1020.0,546.3 L1021.0,546.1 L1022.0,544.9 L1023.0,552.4 L1024.0,552.9 L1025.0,548.7 L1026.0,547.3 L1027.0,550.9 L1028.0,547.3 L1029.0,550.9 L1030.0,549.1 L1031.0,549.0 L1032.0,553.0 L1033.0,548.5 L1034.0,549.5 L1035.0,552.1 L1036.0,556.3 L1037.0,548.0 L1038.0,549.8 L1039.0,549.5 L1040.0,550.1 L1041.0,552.1 L1042.0,555.9 L1043.0,549.1 L1044.0,555.0 L1045.0,552.1 L1046.0,553.7 L1047.0,553.1 L1048.0,554.4 L1049.0,549.8 L1051.2,526.0 L1052.4,542.8 L1053.4,547.6 L1054.4,545.5 L1055.4,543.5 L1056.4,550.5 L1057.3,541.2 L1058.3,539.4 L1059.3,540.9 L1060.3,547.7 L1061.3,541.0 L1062.3,548.5 L1063.3,541.3 L1064.3,543.9 L1065.3,547.8 L1066.3,541.2 L1067.2,546.0 L1068.2,552.5 L1069.2,549.7 L1070.2,546.1 L1071.2,552.0 L1072.2,548.4 L1073.2,551.3 L1074.2,546.4 L1075.2,547.0 L1076.1,550.6 L1077.1,551.4 L1078.1,550.8 L1079.1,545.3 L1080.1,548.3 L1081.1,547.4 L1082.1,546.7 L1083.1,545.7 L1084.1,552.5 L1085.1,546.4 L1086.0,548.8 L1087.0,545.6 L1088.0,552.7 L1089.0,552.1 L1090.0,546.8 L1090.0,556.6 L1091.1,557.0 L1092.1,554.8 L1093.2,555.3 L1095.2,501.0 L1095.8,503.4 L1096.8,505.8 L1097.8,505.7 L1098.8,503.8 L1099.8,509.7 L1100.8,509.5 L1101.9,507.5 L1102.9,511.4 L1103.9,506.7 L1104.9,507.3 L1105.9,505.9 L1106.9,507.2 L1107.9,513.4 L1108.9,510.1 L1109.9,512.7 L1110.9,514.2 L1111.9,512.4 L1112.9,509.5 L1114.0,515.8 L1115.0,507.0 L1116.0,510.6 L1117.0,515.7 L1118.0,513.8 L1119.0,510.5 L1120.0,515.7 L1120.0,515.6 L1121.0,515.4 L1122.0,510.9 L1123.0,515.2 L1124.0,515.1 L1125.0,517.0 L1126.0,513.9 L1127.0,518.2 L1128.0,516.2 L1129.0,511.2 L1130.0,515.0 L1131.0,511.3 L1132.0,515.7 L1133.0,512.9 L1134.0,519.7 L1135.0,513.3 L1136.0,517.9 L1137.0,518.5 L1138.0,514.0 L1139.0,516.3 L1140.0,512.8 L1141.0,514.4 L1142.0,515.1 L1143.0,518.0 L1144.0,516.1 L1145.0,512.7 L1146.0,517.7 L1147.0,516.5 L1148.0,516.8 L1149.0,516.1 L1150.0,520.4 L1151.0,518.4 L1152.0,518.6 L1153.0,517.1 L1154.0,516.3 L1155.0,516.6 L1156.0,519.3 L1157.0,517.0 L1158.0,513.4 L1159.0,515.1 L1160.0,513.5 L1160.0,514.5 L1161.0,517.7 L1162.0,517.9 L1163.0,518.8 L1164.0,516.3 L1165.0,516.7 L1166.0,518.9 L1167.0,517.4 L1168.0,517.2 L1169.0,519.6 L1170.0,522.5 L1171.0,515.4 L1172.0,515.0 L1173.0,519.5 L1174.0,524.2 L1175.0,521.6 L1176.0,518.9 L1177.0,525.2 L1178.0,522.3 L1179.0,523.9 L1180.0,524.2 L1181.0,515.9 L1182.0,517.6 L1183.0,523.9 L1184.0,519.8 L1185.0,525.2 L1186.0,516.6 L1187.0,525.8 L1188.0,522.5 L1189.0,520.4 L1190.0,524.9 L1191.0,521.9 L1192.0,521.1 L1193.0,518.3 L1194.0,524.7 L1195.0,518.1 L1196.0,519.8 L1197.0,517.6 L1198.0,516.9 L1199.0,520.0 L1200.0,517.3 L1201.0,522.0 L1202.0,520.7 L1203.0,517.3 L1204.0,522.1 L1205.0,520.3 L1206.0,519.8 L1207.0,523.2 L1208.0,521.0 L1209.0,518.1 L1210.0,527.7 L1211.0,528.2 L1212.0,520.3 L1213.0,525.0 L1214.0,524.3 L1215.0,520.7 L1216.0,523.9 L1218.0,485.5 L1218.7,491.8 L1219.7,496.1 L1220.8,492.6 L1221.8,497.0 L1222.9,508.4 L1223.9,507.5 L1225.0,504.0 L1225.0,515.0 L1226.0,508.6 L1227.0,514.3 L1228.0,509.2 L1229.0,515.5 L1230.0,511.3 L1231.0,516.1 L1232.0,508.5 L1233.0,511.7 L1234.0,511.5 L1235.0,516.7 L1236.0,518.0 L1237.0,510.1 L1238.0,513.6 L1239.0,511.1 L1240.0,510.2 L1241.0,511.3 L1242.0,510.9 L1242.0,513.0 L1243.0,514.5 L1244.0,519.6 L1245.0,517.2 L1246.0,518.6 L1247.0,514.4 L1248.0,514.5 L1249.0,515.7 L1250.0,514.0 L1251.0,511.9 L1252.0,514.9 L1253.0,522.2 L1254.0,512.9 L1255.0,518.0 L1256.0,515.3 L1257.0,521.4 L1258.0,513.5 L1259.0,519.0 L1260.0,521.7 L1261.0,519.0 L1262.0,515.5 L1263.0,524.4 L1264.0,514.5 L1265.0,525.3 L1266.0,524.3 L1267.0,525.3 L1268.0,525.4 L1268.0,521.7 L1269.0,524.4 L1270.0,523.0 L1271.0,524.4 L1272.0,522.4 L1273.0,527.6 L1274.0,522.0 L1275.0,524.9 L1276.0,519.7 L1277.0,519.8 L1278.0,528.9 L1279.0,523.3 L1280.0,523.7 L1281.0,530.7 L1282.0,527.9 L1283.0,521.6 L1284.0,526.2 L1285.0,525.7 L1286.0,527.3 L1287.0,523.6 L1288.0,523.8 L1289.0,531.9 L1290.0,527.9 L1291.0,527.6 L1292.0,529.5 L1293.0,530.4 L1294.0,523.5 L1295.0,531.2 L1296.0,527.6 L1297.0,523.5 L1298.0,525.8 L1299.0,534.7 L1300.0,533.0 L1300.0,532.9 L1301.0,528.6 L1302.0,530.3 L1303.0,527.7 L1304.0,531.6 L1305.0,529.5 L1306.0,527.7 L1307.0,534.7 L1308.0,529.5 L1309.0,524.5 L1310.0,533.3 L1311.0,525.4 L1312.0,527.5 L1313.0,529.6 L1314.0,527.0 L1315.0,529.8 L1316.0,529.8 L1317.0,531.0 L1318.0,532.5 L1319.0,533.0 L1320.0,525.9 L1321.0,528.1 L1322.0,526.9 L1323.0,529.5 L1324.0,531.0 L1325.0,535.6 L1326.0,526.2 L1327.0,535.4 L1328.0,528.1 L1329.0,534.9 L1330.0,536.3 L1331.0,538.0 L1332.0,533.4 L1333.0,527.5 L1334.0,530.3 L1335.0,532.1 L1336.0,535.0 L1337.0,538.6 L1338.0,537.6 L1339.0,528.3 L1340.0,529.2 L1341.0,535.4 L1342.0,530.3 L1343.0,534.9 L1344.0,534.1 L1345.0,534.7 L1346.0,532.5 L1347.0,539.2 L1348.0,532.1 L1349.0,533.0 L1350.0,530.7 L1351.0,532.4 L1352.0,530.6 L1353.0,536.8 L1354.0,529.5 L1355.0,532.3 L1356.0,539.2 L1357.0,539.8 L1358.0,533.8 L1359.0,538.7 L1360.0,539.7 L1360.0,536.5 L1361.0,536.3 L1362.0,537.8 L1363.0,533.5 L1364.0,533.8 L1365.0,533.1 L1366.0,533.0 L1367.0,535.9 L1368.0,536.3 L1369.0,532.9 L1370.0,532.0 L1371.0,531.5 L1372.0,533.5 L1373.0,533.0 L1374.0,537.8 L1375.0,539.8 L1376.0,537.1 L1377.0,538.3 L1378.0,536.2 L1379.0,532.9 L1380.0,539.7 L1381.0,540.0 L1382.0,533.9 L1383.0,535.7 L1384.0,539.5 L1385.0,539.8 L1386.0,534.5 L1387.0,536.9 L1388.0,537.0 L1389.0,538.7 L1390.0,541.5 L1391.0,534.9 L1392.0,537.3 L1393.0,542.9 L1394.0,535.6 L1395.0,535.7 L1396.0,541.9 L1397.0,540.3 L1398.0,539.0 L1399.0,538.9 L1400.0,535.1 L1401.0,541.0 L1402.0,537.3 L1403.0,539.2 L1404.0,544.2 L1405.0,540.0 L1405.0,540.6 L1406.0,540.3 L1407.0,539.8 L1408.0,542.9 L1409.0,543.9 L1410.0,538.6 L1411.0,537.6 L1412.0,541.3 L1413.0,539.3 L1414.0,543.5 L1415.0,539.5 L1416.0,542.8 L1417.0,542.7 L1418.0,547.5 L1419.0,541.4 L1420.0,541.0 L1421.0,541.8 L1422.0,545.0 L1423.0,541.1 L1424.0,541.2 L1425.0,545.9 L1426.0,544.2 L1427.0,539.9 L1428.0,547.6 L1429.0,540.6 L1430.0,542.4 L1431.0,545.0 L1432.0,544.2 L1433.0,547.4 L1434.0,541.4 L1435.0,546.5 L1435.0,542.6 L1436.0,542.1 L1437.0,547.5 L1438.0,548.2 L1439.0,542.2 L1440.0,541.6 L1441.0,543.2 L1442.0,546.7 L1443.0,541.8 L1444.0,550.3 L1445.0,541.8 L1446.0,548.6 L1447.0,549.3 L1448.0,545.4 L1449.0,549.5 L1450.0,543.6 L1451.0,549.3 L1452.0,547.5 L1453.0,550.2 L1454.0,549.7 L1455.0,549.8 L1456.0,550.6 L1457.0,544.9 L1458.0,542.8 L1459.0,544.2 L1460.0,549.8 L1461.0,547.7 L1462.0,547.5 L1463.0,547.4 L1464.0,543.2 L1465.0,552.0 L1466.0,548.6 L1467.0,548.8 L1468.0,548.0 L1469.0,551.9 L1470.0,548.0 L1471.0,548.7 L1472.0,551.3 L1473.0,545.0 L1474.0,551.7 L1475.0,549.8 L1476.0,547.0 L1477.0,545.3 L1478.0,549.0 L1479.0,546.9 L1480.0,544.0 L1480.0,552.4 L1481.0,551.8 L1482.0,553.3 L1483.0,552.1 L1484.0,549.0 L1485.0,553.6 L1486.0,547.6 L1487.0,547.8 L1488.0,549.8 L1489.0,551.8 L1490.0,546.6 L1491.0,546.3 L1492.0,554.4 L1493.0,546.0 L1494.0,552.8 L1495.0,550.4 L1496.0,555.0 L1497.0,554.1 L1498.0,550.5 L1499.0,551.4 L1500.0,552.9 L1501.0,548.9 L1502.0,546.7 L1503.0,555.8 L1504.0,551.7 L1505.0,554.2 L1506.0,551.8 L1507.0,547.6 L1508.0,547.9 L1509.0,549.2 L1510.0,556.2 L1511.0,554.8 L1512.0,550.0 L1513.0,551.5 L1514.0,556.5 L1515.0,552.2 L1516.0,550.5 L1517.0,552.6 L1518.0,549.2 L1519.0,553.1 L1520.0,548.5 L1521.0,552.8 L1522.0,549.0 L1523.0,548.4 L1524.0,555.3 L1525.0,553.0 L1526.0,549.7 L1527.0,552.1 L1528.0,556.9 L1529.0,551.9 L1530.0,551.1 L1531.0,553.2 L1532.0,557.3 L1533.0,554.7 L1534.0,553.4 L1535.0,554.9 L1536.0,552.3 L1537.0,558.1 L1538.0,551.7 L1539.0,551.2 L1540.0,554.0 L1541.0,557.1 L1542.0,556.9 L1543.0,555.9 L1544.0,549.5 L1545.0,557.4 L1546.0,558.6 L1547.0,550.9 L1548.0,551.7 L1549.0,552.0 L1550.0,551.2 L1551.0,551.4 L1552.0,555.0" stroke="#ff7f0e" stroke-width="2.08"/>
</g>
<rect x="90.41" y="722" width="1.1" height="4.86" fill="#000"/>
<rect x="105.03" y="722" width="1.1" height="2.78" fill="#000"/>
<rect x="119.65" y="722" width="1.1" height="2.78" fill="#000"/>
<rect x="134.27" y="722" width="1.1" height="2.78" fill="#000"/>
<rect x="148.89" y="722" width="1.1" height="2.78" fill="#000"/>
<rect x="163.51" y="722" width="1.1" height="4.86" fill="#000"/>
<rect x="178.13" y="722" width="1.1" height="2.78" fill="#000"/>
<rect x="192.75" y="722" width="1.1" height="2.78" fill="#000"/>
<rect x="207.37" y="722" width="1.1" height="2.78" fill="#000"/>
<rect x="221.99" y="722" width="1.1" height="2.78" fill="#000"/>
<rect x="236.61" y="722" width="1.1" height="4.86" fill="#000"/>
<rect x="251.23" y="722" width="1.1" height="2.78" fill="#000"/>
<rect x="265.85" y="722" width="1.1" height="2.78" fill="#000"/>
<rect x="280.48" y="722" width="1.1" height="2.78" fill="#000"/>
<rect x="295.10" y="722" width="1.1" height="2.78" fill="#000"/>
<rect x="309.72" y="722" width="1.1" height="4.86" fill="#000"/>
<rect x="324.34" y="722" width="1.1" height="2.78" fill="#000"/>
<rect x="338.96" y="722" width="1.1" height="2.78" fill="#000"/>
<rect x="353.58" y="722" width="1.1" height="2.78" fill="#000"/>
<rect x="368.20" y="722" width="1.1" height="2.78" fill="#000"/>
<rect x="382.82" y="722" width="1.1" height="4.86" fill="#000"/>
<rect x="397.44" y="722" width="1.1" height="2.78" fill="#000"/>
<rect x="412.06" y="722" width="1.1" height="2.78" fill="#000"/>
<rect x="426.68" y="722" width="1.1" height="2.78" fill="#000"/>
<rect x="441.30" y="722" width="1.1" height="2.78" fill="#000"/>
<rect x="455.92" y="722" width="1.1" height="4.86" fill="#000"/>
<rect x="470.54" y="722" width="1.1" height="2.78" fill="#000"/>
<rect x="485.16" y="722" width="1.1" height="2.78" fill="#000"/>
<rect x="499.78" y="722" width="1.1" height="2.78" fill="#000"/>
<rect x="514.40" y="722" width="1.1" height="2.78" fill="#000"/>
<rect x="529.02" y="722" width="1.1" height="4.86" fill="#000"/>
<rect x="543.64" y="722" width="1.1" height="2.78" fill="#000"/>
<rect x="558.26" y="722" width="1.1" height="2.78" fill="#000"/>
<rect x="572.88" y="722" width="1.1" height="2.78" fill="#000"/>
<rect x="587.50" y="722" width="1.1" height="2.78" fill="#000"/>
<rect x="602.12" y="722" width="1.1" height="4.86" fill="#000"/>
<rect x="616.74" y="722" width="1.1" height="2.78" fill="#000"/>
<rect x="631.36" y="722" width="1.1" height="2.78" fill="#000"/>
<rect x="645.99" y="722" width="1.1" height="2.78" fill="#000"/>
<rect x="660.61" y="722" width="1.1" height="2.78" fill="#000"/>
<rect x="675.23" y="722" width="1.1" height="4.86" fill="#000"/>
<rect x="689.85" y="722" width="1.1" height="2.78" fill="#000"/>
<rect x="704.47" y="722" width="1.1" height="2.78" fill="#000"/>
<rect x="719.09" y="722" width="1.1" height="2.78" fill="#000"/>
<rect x="733.71" y="722" width="1.1" height="2.78" fill="#000"/>
<rect x="748.33" y="722" width="1.1" height="4.86" fill="#000"/>
<rect x="762.95" y="722" width="1.1" height="2.78" fill="#000"/>
<rect x="777.57" y="722" width="1.1" height="2.78" fill="#000"/>
<rect x="792.19" y="722" width="1.1" height="2.78" fill="#000"/>
<rect x="806.81" y="722" width="1.1" height="2.78" fill="#000"/>
<rect x="821.43" y="722" width="1.1" height="4.86" fill="#000"/>
<rect x="836.05" y="722" width="1.1" height="2.78" fill="#000"/>
<rect x="850.67" y="722" width="1.1" height="2.78" fill="#000"/>
<rect x="865.29" y="722" width="1.1" height="2.78" fill="#000"/>
<rect x="879.91" y="722" width="1.1" height="2.78" fill="#000"/>
<rect x="894.53" y="722" width="1.1" height="4.86" fill="#000"/>
<rect x="909.15" y="722" width="1.1" height="2.78" fill="#000"/>
<rect x="923.77" y="722" width="1.1" height="2.78" fill="#000"/>
<rect x="938.39" y="722" width="1.1" height="2.78" fill="#000"/>
<rect x="953.01" y="722" width="1.1" height="2.78" fill="#000"/>
<rect x="967.63" y="722" width="1.1" height="4.86" fill="#000"/>
<rect x="982.25" y="722" width="1.1" height="2.78" fill="#000"/>
<rect x="996.87" y="722" width="1.1" height="2.78" fill="#000"/>
<rect x="1011.50" y="722" width="1.1" height="2.78" fill="#000"/>
<rect x="1026.12" y="722" width="1.1" height="2.78" fill="#000"/>
<rect x="1040.74" y="722" width="1.1" height="4.86" fill="#000"/>
<rect x="1055.36" y="722" width="1.1" height="2.78" fill="#000"/>
<rect x="1069.98" y="722" width="1.1" height="2.78" fill="#000"/>
<rect x="1084.60" y="722" width="1.1" height="2.78" fill="#000"/>
<rect x="1099.22" y="722" width="1.1" height="2.78" fill="#000"/>
<rect x="1113.84" y="722" width="1.1" height="4.86" fill="#000"/>
<rect x="1128.46" y="722" width="1.1" height="2.78" fill="#000"/>
<rect x="1143.08" y="722" width="1.1" height="2.78" fill="#000"/>
<rect x="1157.70" y="722" width="1.1" height="2.78" fill="#000"/>
<rect x="1172.32" y="722" width="1.1" height="2.78" fill="#000"/>
<rect x="1186.94" y="722" width="1.1" height="4.86" fill="#000"/>
<rect x="1201.56" y="722" width="1.1" height="2.78" fill="#000"/>
<rect x="1216.18" y="722" width="1.1" height="2.78" fill="#000"/>
<rect x="1230.80" y="722" width="1.1" height="2.78" fill="#000"/>
<rect x="1245.42" y="722" width="1.1" height="2.78" fill="#000"/>
<rect x="1260.04" y="722" width="1.1" height="4.86" fill="#000"/>
<rect x="1274.66" y="722" width="1.1" height="2.78" fill="#000"/>
<rect x="1289.28" y="722" width="1.1" height="2.78" fill="#000"/>
<rect x="1303.90" y="722" width="1.1" height="2.78" fill="#000"/>
<rect x="1318.52" y="722" width="1.1" height="2.78" fill="#000"/>
<rect x="1333.14" y="722" width="1.1" height="4.86" fill="#000"/>
<rect x="1347.76" y="722" width="1.1" height="2.78" fill="#000"/>
<rect x="1362.38" y="722" width="1.1" height="2.78" fill="#000"/>
<rect x="1377.01" y="722" width="1.1" height="2.78" fill="#000"/>
<rect x="1391.63" y="722" width="1.1" height="2.78" fill="#000"/>
<rect x="1406.25" y="722" width="1.1" height="4.86" fill="#000"/>
<rect x="1420.87" y="722" width="1.1" height="2.78" fill="#000"/>
<rect x="1435.49" y="722" width="1.1" height="2.78" fill="#000"/>
<rect x="1450.11" y="722" width="1.1" height="2.78" fill="#000"/>
<rect x="1464.73" y="722" width="1.1" height="2.78" fill="#000"/>
<rect x="1479.35" y="722" width="1.1" height="4.86" fill="#000"/>
<rect x="1493.97" y="722" width="1.1" height="2.78" fill="#000"/>
<rect x="1508.59" y="722" width="1.1" height="2.78" fill="#000"/>
<rect x="1523.21" y="722" width="1.1" height="2.78" fill="#000"/>
<rect x="1537.83" y="722" width="1.1" height="2.78" fill="#000"/>
<rect x="1552.45" y="722" width="1.1" height="4.86" fill="#000"/>
<rect x="86.10" y="722" width="4.86" height="1" fill="#000"/>
<rect x="88.18" y="713" width="2.78" height="1" fill="#000"/>
<rect x="88.18" y="705" width="2.78" height="1" fill="#000"/>
<rect x="88.18" y="697" width="2.78" height="1" fill="#000"/>
<rect x="86.10" y="688" width="4.86" height="1" fill="#000"/>
<rect x="88.18" y="680" width="2.78" height="1" fill="#000"/>
<rect x="88.18" y="671" width="2.78" height="1" fill="#000"/>
<rect x="88.18" y="663" width="2.78" height="1" fill="#000"/>
<rect x="86.10" y="655" width="4.86" height="1" fill="#000"/>
<rect x="88.18" y="646" width="2.78" height="1" fill="#000"/>
<rect x="88.18" y="638" width="2.78" height="1" fill="#000"/>
<rect x="88.18" y="630" width="2.78" height="1" fill="#000"/>
<rect x="86.10" y="621" width="4.86" height="1" fill="#000"/>
<rect x="88.18" y="613" width="2.78" height="1" fill="#000"/>
<rect x="88.18" y="604" width="2.78" height="1" fill="#000"/>
<rect x="88.18" y="596" width="2.78" height="1" fill="#000"/>
<rect x="86.10" y="588" width="4.86" height="1" fill="#000"/>
<rect x="88.18" y="579" width="2.78" height="1" fill="#000"/>
<rect x="88.18" y="571" width="2.78" height="1" fill="#000"/>
<rect x="88.18" y="563" width="2.78" height="1" fill="#000"/>
<rect x="86.10" y="554" width="4.86" height="1" fill="#000"/>
<rect x="88.18" y="546" width="2.78" height="1" fill="#000"/>
<rect x="88.18" y="537" width="2.78" height="1" fill="#000"/>
<rect x="88.18" y="529" width="2.78" height="1" fill="#000"/>
<rect x="86.10" y="521" width="4.86" height="1" fill="#000"/>
<rect x="88.18" y="512" width="2.78" height="1" fill="#000"/>
<rect x="88.18" y="504" width="2.78" height="1" fill="#000"/>
<rect x="88.18" y="495" width="2.78" height="1" fill="#000"/>
<rect x="86.10" y="487" width="4.86" height="1" fill="#000"/>
<rect x="88.18" y="479" width="2.78" height="1" fill="#000"/>
<rect x="88.18" y="470" width="2.78" height="1" fill="#000"/>
<rect x="88.18" y="462" width="2.78" height="1" fill="#000"/>
<rect x="86.10" y="454" width="4.86" height="1" fill="#000"/>
<rect x="88.18" y="445" width="2.78" height="1" fill="#000"/>
<rect x="88.18" y="437" width="2.78" height="1" fill="#000"/>
<rect x="88.18" y="428" width="2.78" height="1" fill="#000"/>
<rect x="86.10" y="420" width="4.86" height="1" fill="#000"/>
<rect x="88.18" y="412" width="2.78" height="1" fill="#000"/>
<rect x="88.18" y="403" width="2.78" height="1" fill="#000"/>
<rect x="88.18" y="395" width="2.78" height="1" fill="#000"/>
<rect x="86.10" y="387" width="4.86" height="1" fill="#000"/>
<rect x="88.18" y="378" width="2.78" height="1" fill="#000"/>
<rect x="88.18" y="370" width="2.78" height="1" fill="#000"/>
<rect x="88.18" y="361" width="2.78" height="1" fill="#000"/>
<rect x="86.10" y="353" width="4.86" height="1" fill="#000"/>
<rect x="88.18" y="345" width="2.78" height="1" fill="#000"/>
<rect x="88.18" y="336" width="2.78" height="1" fill="#000"/>
<rect x="88.18" y="328" width="2.78" height="1" fill="#000"/>
<rect x="86.10" y="319" width="4.86" height="1" fill="#000"/>
<rect x="88.18" y="311" width="2.78" height="1" fill="#000"/>
<rect x="88.18" y="303" width="2.78" height="1" fill="#000"/>
<rect x="88.18" y="294" width="2.78" height="1" fill="#000"/>
<rect x="86.10" y="286" width="4.86" height="1" fill="#000"/>
<rect x="88.18" y="278" width="2.78" height="1" fill="#000"/>
<rect x="88.18" y="269" width="2.78" height="1" fill="#000"/>
<rect x="88.18" y="261" width="2.78" height="1" fill="#000"/>
<rect x="86.10" y="252" width="4.86" height="1" fill="#000"/>
<rect x="88.18" y="244" width="2.78" height="1" fill="#000"/>
<rect x="88.18" y="236" width="2.78" height="1" fill="#000"/>
<rect x="88.18" y="227" width="2.78" height="1" fill="#000"/>
<rect x="86.10" y="219" width="4.86" height="1" fill="#000"/>
<rect x="88.18" y="211" width="2.78" height="1" fill="#000"/>
<rect x="88.18" y="202" width="2.78" height="1" fill="#000"/>
<rect x="88.18" y="194" width="2.78" height="1" fill="#000"/>
<rect x="86.10" y="185" width="4.86" height="1" fill="#000"/>
<rect x="88.18" y="177" width="2.78" height="1" fill="#000"/>
<rect x="88.18" y="169" width="2.78" height="1" fill="#000"/>
<rect x="88.18" y="160" width="2.78" height="1" fill="#000"/>
<rect x="86.10" y="152" width="4.86" height="1" fill="#000"/>
<rect x="88.18" y="143" width="2.78" height="1" fill="#000"/>
<rect x="88.18" y="135" width="2.78" height="1" fill="#000"/>
<rect x="88.18" y="127" width="2.78" height="1" fill="#000"/>
<rect x="86.10" y="118" width="4.86" height="1" fill="#000"/>
<rect x="88.18" y="110" width="2.78" height="1" fill="#000"/>
<rect x="88.18" y="102" width="2.78" height="1" fill="#000"/>
<rect x="88.18" y="93" width="2.78" height="1" fill="#000"/>
<rect x="86.10" y="85" width="4.86" height="1" fill="#000"/>
<rect x="88.18" y="76" width="2.78" height="1" fill="#000"/>
<rect x="88.18" y="68" width="2.78" height="1" fill="#000"/>
<rect x="88.18" y="60" width="2.78" height="1" fill="#000"/>
<rect x="86.10" y="51" width="4.86" height="1" fill="#000"/>
<text x="90.96" y="746.60" class="tl" text-anchor="middle" textLength="33" lengthAdjust="spacingAndGlyphs">0.0</text>
<text x="164.06" y="746.60" class="tl" text-anchor="middle" textLength="33" lengthAdjust="spacingAndGlyphs">0.5</text>
<text x="237.16" y="746.60" class="tl" text-anchor="middle" textLength="33" lengthAdjust="spacingAndGlyphs">1.0</text>
<text x="310.27" y="746.60" class="tl" text-anchor="middle" textLength="33" lengthAdjust="spacingAndGlyphs">1.5</text>
<text x="383.37" y="746.60" class="tl" text-anchor="middle" textLength="33" lengthAdjust="spacingAndGlyphs">2.0</text>
<text x="456.47" y="746.60" class="tl" text-anchor="middle" textLength="33" lengthAdjust="spacingAndGlyphs">2.5</text>
<text x="529.57" y="746.60" class="tl" text-anchor="middle" textLength="33" lengthAdjust="spacingAndGlyphs">3.0</text>
<text x="602.67" y="746.60" class="tl" text-anchor="middle" textLength="33" lengthAdjust="spacingAndGlyphs">3.5</text>
<text x="675.78" y="746.60" class="tl" text-anchor="middle" textLength="33" lengthAdjust="spacingAndGlyphs">4.0</text>
<text x="748.88" y="746.60" class="tl" text-anchor="middle" textLength="33" lengthAdjust="spacingAndGlyphs">4.5</text>
<text x="821.98" y="746.60" class="tl" text-anchor="middle" textLength="33" lengthAdjust="spacingAndGlyphs">5.0</text>
<text x="895.08" y="746.60" class="tl" text-anchor="middle" textLength="33" lengthAdjust="spacingAndGlyphs">5.5</text>
<text x="968.18" y="746.60" class="tl" text-anchor="middle" textLength="33" lengthAdjust="spacingAndGlyphs">6.0</text>
<text x="1041.29" y="746.60" class="tl" text-anchor="middle" textLength="33" lengthAdjust="spacingAndGlyphs">6.5</text>
<text x="1114.39" y="746.60" class="tl" text-anchor="middle" textLength="33" lengthAdjust="spacingAndGlyphs">7.0</text>
<text x="1187.49" y="746.60" class="tl" text-anchor="middle" textLength="33" lengthAdjust="spacingAndGlyphs">7.5</text>
<text x="1260.59" y="746.60" class="tl" text-anchor="middle" textLength="33" lengthAdjust="spacingAndGlyphs">8.0</text>
<text x="1333.69" y="746.60" class="tl" text-anchor="middle" textLength="33" lengthAdjust="spacingAndGlyphs">8.5</text>
<text x="1406.80" y="746.60" class="tl" text-anchor="middle" textLength="33" lengthAdjust="spacingAndGlyphs">9.0</text>
<text x="1479.90" y="746.60" class="tl" text-anchor="middle" textLength="33" lengthAdjust="spacingAndGlyphs">9.5</text>
<text x="1553.00" y="746.60" class="tl" text-anchor="middle" textLength="49" lengthAdjust="spacingAndGlyphs">10.0</text>
<text x="83.20" y="730.00" class="tl" text-anchor="end" textLength="34" lengthAdjust="spacingAndGlyphs">0.0</text>
<text x="83.20" y="696.48" class="tl" text-anchor="end" textLength="34" lengthAdjust="spacingAndGlyphs">0.1</text>
<text x="83.20" y="662.96" class="tl" text-anchor="end" textLength="34" lengthAdjust="spacingAndGlyphs">0.2</text>
<text x="83.20" y="629.44" class="tl" text-anchor="end" textLength="34" lengthAdjust="spacingAndGlyphs">0.3</text>
<text x="83.20" y="595.92" class="tl" text-anchor="end" textLength="34" lengthAdjust="spacingAndGlyphs">0.4</text>
<text x="83.20" y="562.39" class="tl" text-anchor="end" textLength="34" lengthAdjust="spacingAndGlyphs">0.5</text>
<text x="83.20" y="528.87" class="tl" text-anchor="end" textLength="34" lengthAdjust="spacingAndGlyphs">0.6</text>
<text x="83.20" y="495.35" class="tl" text-anchor="end" textLength="34" lengthAdjust="spacingAndGlyphs">0.7</text>
<text x="83.20" y="461.83" class="tl" text-anchor="end" textLength="34" lengthAdjust="spacingAndGlyphs">0.8</text>
<text x="83.20" y="428.30" class="tl" text-anchor="end" textLength="34" lengthAdjust="spacingAndGlyphs">0.9</text>
<text x="83.20" y="394.78" class="tl" text-anchor="end" textLength="34" lengthAdjust="spacingAndGlyphs">1.0</text>
<text x="83.20" y="361.26" class="tl" text-anchor="end" textLength="34" lengthAdjust="spacingAndGlyphs">1.1</text>
<text x="83.20" y="327.74" class="tl" text-anchor="end" textLength="34" lengthAdjust="spacingAndGlyphs">1.2</text>
<text x="83.20" y="294.22" class="tl" text-anchor="end" textLength="34" lengthAdjust="spacingAndGlyphs">1.3</text>
<text x="83.20" y="260.69" class="tl" text-anchor="end" textLength="34" lengthAdjust="spacingAndGlyphs">1.4</text>
<text x="83.20" y="227.17" class="tl" text-anchor="end" textLength="34" lengthAdjust="spacingAndGlyphs">1.5</text>
<text x="83.20" y="193.65" class="tl" text-anchor="end" textLength="34" lengthAdjust="spacingAndGlyphs">1.6</text>
<text x="83.20" y="160.13" class="tl" text-anchor="end" textLength="34" lengthAdjust="spacingAndGlyphs">1.7</text>
<text x="83.20" y="126.60" class="tl" text-anchor="end" textLength="34" lengthAdjust="spacingAndGlyphs">1.8</text>
<text x="83.20" y="93.08" class="tl" text-anchor="end" textLength="34" lengthAdjust="spacingAndGlyphs">1.9</text>
<text x="83.20" y="59.56" class="tl" text-anchor="end" textLength="34" lengthAdjust="spacingAndGlyphs">2.0</text>
<text x="543" y="44.75" style="font-size:25px" textLength="560" lengthAdjust="spacingAndGlyphs"><tspan style="font-size:27.5px">0819</tspan>時点_ピチュー出現期待値フィールド比較</text>
<text x="1540" y="44.7" style="font-size:17.5px;fill:#777" text-anchor="end" textLength="124" lengthAdjust="spacingAndGlyphs">@pk_cashunoe</text>
<text x="709" y="773.3" style="font-size:23.5px" textLength="226" lengthAdjust="spacingAndGlyphs">ねむけパワー（千万）</text>
<text transform="translate(43.5,444.8) rotate(-90)" style="font-size:23px" textLength="111.5" lengthAdjust="spacingAndGlyphs">出現期待値</text>
<g>
<rect x="1135" y="62.6" width="405.5" height="70.4" rx="4.4" ry="4.4" fill="#fff" fill-opacity="0.8" stroke="#cccccc" stroke-width="1.1"/>
<line x1="1144" y1="80.9" x2="1188.5" y2="80.9" stroke="#1f77b4" stroke-width="2.1"/>
<line x1="1144" y1="112.5" x2="1188.5" y2="112.5" stroke="#ff7f0e" stroke-width="2.1"/>
<text x="1207.8" y="88.5" style="font-size:22.2px" textLength="287.4" lengthAdjust="spacingAndGlyphs">ワカクサぐっすりマスター11</text>
<text x="1207.8" y="119.5" style="font-size:22.2px" textLength="324.8" lengthAdjust="spacingAndGlyphs">ラピスラズリぐっすりマスター5</text>
</g>
</svg>
</body></html>
